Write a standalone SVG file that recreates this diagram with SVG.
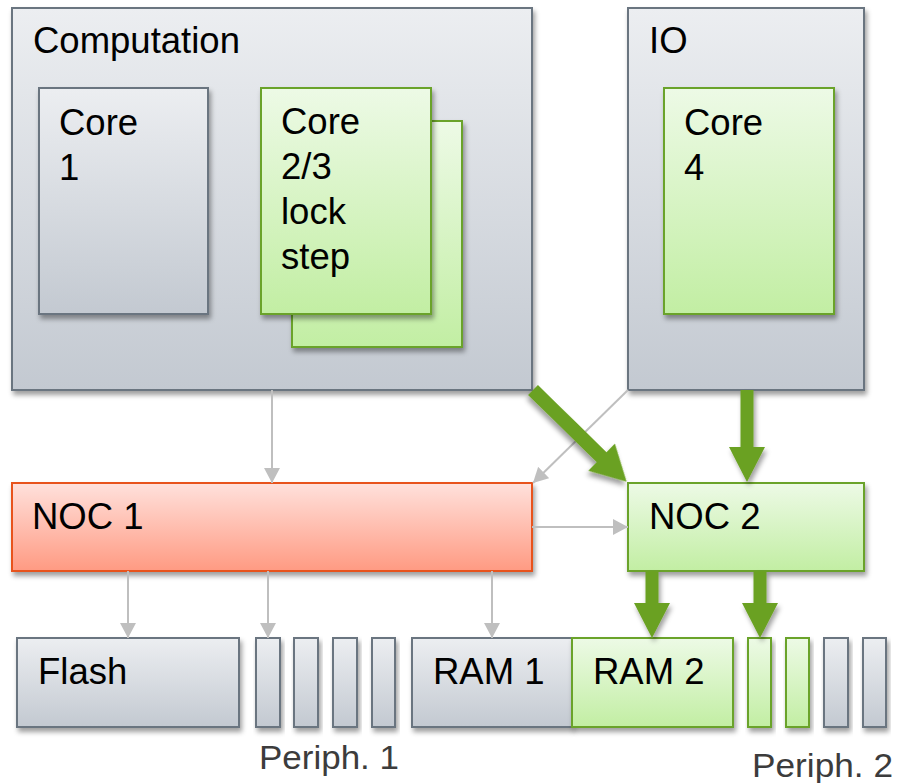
<svg xmlns="http://www.w3.org/2000/svg" width="898" height="783" viewBox="0 0 898 783">
  <defs>
    <linearGradient id="gGray" x1="0" y1="0" x2="0" y2="1">
      <stop offset="0" stop-color="#eceef1"/>
      <stop offset="1" stop-color="#c3c9d1"/>
    </linearGradient>
    <linearGradient id="gGreen" x1="0" y1="0" x2="0" y2="1">
      <stop offset="0" stop-color="#edfae6"/>
      <stop offset="1" stop-color="#c2eea3"/>
    </linearGradient>
    <linearGradient id="gRed" x1="0" y1="0" x2="0" y2="1">
      <stop offset="0" stop-color="#ffe1dc"/>
      <stop offset="1" stop-color="#ff9a82"/>
    </linearGradient>
    <filter id="shadow" x="-10%" y="-10%" width="130%" height="130%">
      <feDropShadow dx="2" dy="4" stdDeviation="2.5" flood-color="#000" flood-opacity="0.38"/>
    </filter>
    <marker id="grayHead" markerUnits="userSpaceOnUse" markerWidth="16" markerHeight="16" refX="15" refY="8" orient="auto">
      <path d="M0,0 L15,8 L0,16 Z" fill="#bfbfbf"/>
    </marker>
  </defs>
  <style>
    .gray { fill: url(#gGray); stroke: #6b7580; stroke-width: 2; filter: url(#shadow); }
    .green { fill: url(#gGreen); stroke: #6aa329; stroke-width: 2; filter: url(#shadow); }
    .red { fill: url(#gRed); stroke: #e8531a; stroke-width: 2; filter: url(#shadow); }
    .lbl { font-family: "Liberation Sans", Arial, sans-serif; font-size: 36.5px; fill: #000; }
    .cap { font-family: "Liberation Sans", Arial, sans-serif; font-size: 34px; fill: #3c3c3c; }
    .thin { stroke: #bfbfbf; stroke-width: 2; fill: none; marker-end: url(#grayHead); }
    .thick { fill: #6aa121; filter: url(#shadow); }
  </style>

  <!-- Computation cluster -->
  <g id="computation">
    <rect class="gray" x="12" y="8" width="520" height="382"/>
    <text class="lbl" x="33" y="53">Computation</text>
  </g>
  <g id="core1">
    <rect class="gray" x="39" y="88" width="169" height="226"/>
    <text class="lbl" x="59" y="135">Core</text>
    <text class="lbl" x="59" y="180">1</text>
  </g>
  <g id="core23">
    <rect class="green" x="292" y="121" width="170" height="226"/>
    <rect class="green" x="261" y="88" width="170" height="226"/>
    <text class="lbl" x="281" y="134">Core</text>
    <text class="lbl" x="281" y="179">2/3</text>
    <text class="lbl" x="281" y="224">lock</text>
    <text class="lbl" x="281" y="269">step</text>
  </g>

  <!-- IO cluster -->
  <g id="io">
    <rect class="gray" x="628" y="8" width="236" height="382"/>
    <text class="lbl" x="649" y="53">IO</text>
  </g>
  <g id="core4">
    <rect class="green" x="664" y="88" width="170" height="226"/>
    <text class="lbl" x="684" y="135">Core</text>
    <text class="lbl" x="684" y="180">4</text>
  </g>

  <!-- Interconnects -->
  <g id="noc1">
    <rect class="red" x="12" y="483" width="520" height="88"/>
    <text class="lbl" x="32" y="529">NOC 1</text>
  </g>
  <g id="noc2">
    <rect class="green" x="628" y="483" width="236" height="88"/>
    <text class="lbl" x="649" y="529">NOC 2</text>
  </g>

  <!-- Memories and peripherals -->
  <g id="flash">
    <rect class="gray" x="17" y="638" width="222" height="89"/>
    <text class="lbl" x="38" y="684">Flash</text>
  </g>
  <g id="periph1">
    <rect class="gray" x="256" y="638" width="24" height="89"/>
    <rect class="gray" x="294" y="638" width="24" height="89"/>
    <rect class="gray" x="333" y="638" width="24" height="89"/>
    <rect class="gray" x="372" y="638" width="23" height="89"/>
    <text class="cap" x="259" y="769" textLength="140" lengthAdjust="spacingAndGlyphs">Periph. 1</text>
  </g>
  <g id="ram1">
    <rect class="gray" x="412" y="638" width="160" height="89"/>
    <text class="lbl" x="433" y="684">RAM 1</text>
  </g>
  <g id="ram2">
    <rect class="green" x="572" y="638" width="161" height="89"/>
    <text class="lbl" x="593" y="684">RAM 2</text>
  </g>
  <g id="periph2">
    <rect class="green" x="748" y="638" width="23" height="89"/>
    <rect class="green" x="786" y="638" width="23" height="89"/>
    <rect class="gray" x="824" y="638" width="24" height="89"/>
    <rect class="gray" x="863" y="638" width="23" height="89"/>
    <text class="cap" x="752" y="777" textLength="141" lengthAdjust="spacingAndGlyphs">Periph. 2</text>
  </g>

  <!-- Connectors -->
  <g id="connectors">
    <line class="thin" x1="272" y1="390" x2="272" y2="483"/>
    <line class="thin" x1="628" y1="390" x2="533" y2="483"/>
    <line class="thin" x1="532" y1="527" x2="628" y2="527"/>
    <line class="thin" x1="128" y1="571" x2="128" y2="638"/>
    <line class="thin" x1="268" y1="571" x2="268" y2="638"/>
    <line class="thin" x1="492" y1="571" x2="492" y2="638"/>

    <!-- thick green links: shaft 13, head 36 wide x 35 long -->
    <path class="thick" transform="translate(533,390) rotate(44.4)" d="M0,-7 L96,-7 L96,-19 L131,0 L96,19 L96,7 L0,7 Z"/>
    <path class="thick" d="M740.5,390 L753.5,390 L753.5,447 L765,447 L747,482 L729,447 L740.5,447 Z"/>
    <path class="thick" d="M645.5,571 L658.5,571 L658.5,603 L670,603 L652,638 L634,603 L645.5,603 Z"/>
    <path class="thick" d="M753.5,571 L766.5,571 L766.5,603 L778,603 L760,638 L742,603 L753.5,603 Z"/>
  </g>
</svg>
